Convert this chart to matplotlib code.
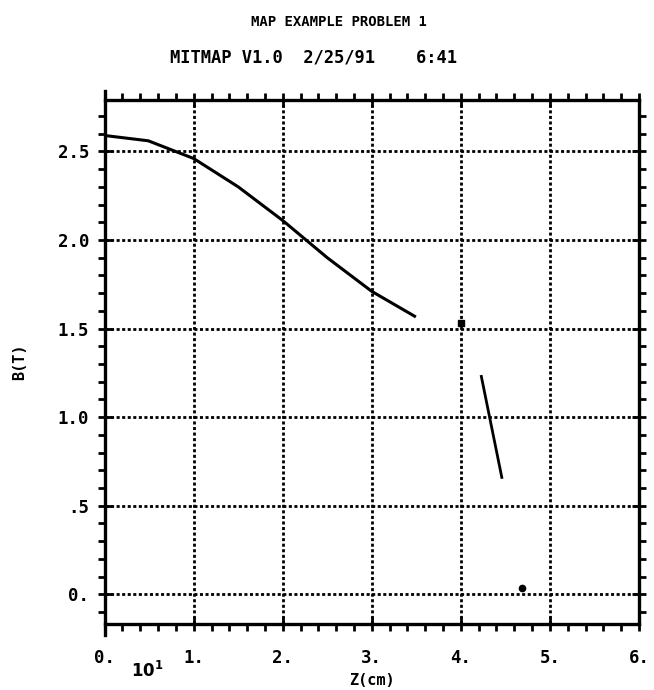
import matplotlib
matplotlib.use('Agg')
import matplotlib.pyplot as plt
import numpy as np
from matplotlib.ticker import MultipleLocator, FixedLocator, FixedFormatter

# field curve along the axis (Z in units of 10 cm)
z_curve = [0.0, 0.49, 1.0, 1.5, 2.0, 2.5, 3.0, 3.48]
b_curve = [2.59, 2.56, 2.46, 2.30, 2.11, 1.90, 1.71, 1.57]

# short second segment
z_seg = [4.23, 4.46]
b_seg = [1.23, 0.66]

# isolated points
z_square = [4.0]
b_square = [1.53]
z_dot = [4.69]
b_dot = [0.035]

x_ticks = [0, 1, 2, 3, 4, 5, 6]
x_labels = ['0.', '1.', '2.', '3.', '4.', '5.', '6.']
y_ticks = [0.0, 0.5, 1.0, 1.5, 2.0, 2.5]
y_labels = ['0.', '.5', '1.0', '1.5', '2.0', '2.5']

title1 = 'MAP EXAMPLE PROBLEM 1'
title2 = 'MITMAP V1.0  2/25/91    6:41'

plt.rcParams['font.family'] = ['DejaVu Sans Mono']
plt.rcParams['font.weight'] = 'bold'

fig = plt.figure(figsize=(6.54, 6.9), dpi=100)
ax = fig.add_axes([0.160, 0.095, 0.817, 0.760])

ax.plot(z_curve, b_curve, color='black', lw=2.2, zorder=3)
ax.plot(z_seg, b_seg, color='black', lw=2.0, zorder=3)
ax.plot(z_square, b_square, 's', color='black', ms=5, zorder=3)
ax.plot(z_dot, b_dot, 'o', color='black', ms=4.5, zorder=3)

ax.set_xlim(0, 6)
ax.set_ylim(-0.17, 2.79)

ax.xaxis.set_major_locator(FixedLocator(x_ticks))
ax.xaxis.set_major_formatter(FixedFormatter(x_labels))
ax.yaxis.set_major_locator(FixedLocator(y_ticks))
ax.yaxis.set_major_formatter(FixedFormatter(y_labels))
ax.xaxis.set_minor_locator(MultipleLocator(0.2))
ax.yaxis.set_minor_locator(MultipleLocator(0.1))

ax.tick_params(which='major', direction='inout', length=10, width=2,
               top=True, right=True, labelsize=12.5, pad=6)
ax.tick_params(axis='x', which='major', pad=13)
ax.tick_params(which='minor', direction='out', length=5, width=2,
               top=True, right=True)
for lab in ax.get_xticklabels() + ax.get_yticklabels():
    lab.set_fontweight('bold')

ax.grid(True, which='major', color='black', lw=2.0,
        linestyle=(0, (1.1, 0.9)))
ax.set_axisbelow(True)

for sp in ax.spines.values():
    sp.set_linewidth(2.4)
ax.spines['left'].set_bounds(-0.23, 2.84)

ax.set_ylabel('B(T)', fontsize=11, fontweight='bold', labelpad=22)
ax.set_xlabel('Z(cm)', fontsize=11, fontweight='bold', labelpad=4)
ax.text(0.3, -0.43, r'$\mathbf{10^{1}}$', fontsize=12, ha='left', va='center')

fig.text(0.518, 0.968, title1, fontsize=10, fontweight='bold', ha='center', va='center')
fig.text(0.480, 0.917, title2, fontsize=12.3, fontweight='bold', ha='center', va='center')

fig.savefig('out.png', dpi=100)
